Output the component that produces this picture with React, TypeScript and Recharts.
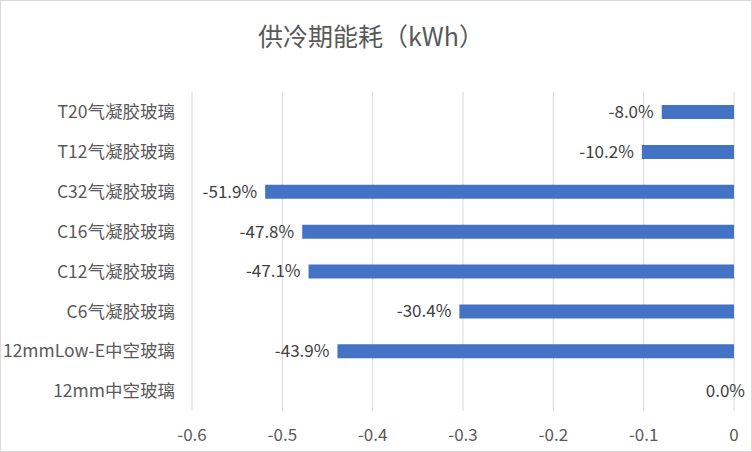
import { BarChart, Bar, XAxis, YAxis, CartesianGrid, LabelList, Cell } from 'recharts';

const categories = [
    'T20气凝胶玻璃',
    'T12气凝胶玻璃',
    'C32气凝胶玻璃',
    'C16气凝胶玻璃',
    'C12气凝胶玻璃',
    'C6气凝胶玻璃',
    '12mmLow-E中空玻璃',
    '12mm中空玻璃',
];

const savings = [-0.080, -0.102, -0.519, -0.478, -0.471, -0.304, -0.439, 0];

const xTicks = [-0.6, -0.5, -0.4, -0.3, -0.2, -0.1, 0];

const title = '供冷期能耗（kWh）';

const data = categories.map((name, i) => ({ name, value: savings[i] }));

const FONT = '"Noto Sans CJK SC", "Noto Sans", sans-serif';

const renderLabel = (props: any) => {
    const { x, y, width, height, value } = props;
    const left = Math.min(Number(x), Number(x) + Number(width));
    const cy = Number(y) + Number(height) / 2;
    const tx = value === 0 ? left + 11 : left - 8;
    return (
        <text
            x={tx}
            y={cy}
            dy="0.35em"
            textAnchor="end"
            fill="#404040"
            fontSize={17}
            fontFamily={FONT}
        >
            {(value * 100).toFixed(1) + '%'}
        </text>
    );
};

export default function App() {
    return (
        <div
            style={{
                position: 'absolute',
                left: 0,
                top: 0,
                width: 750,
                height: 450,
                border: '1px solid #d9d9d9',
                background: '#fff',
                fontFamily: FONT,
            }}
        >
            <div
                style={{
                    position: 'absolute',
                    left: 0,
                    width: 740,
                    top: 16,
                    textAlign: 'center',
                    fontSize: 25,
                    color: '#595959',
                    lineHeight: '36px',
                }}
            >
                {title}
            </div>
            <BarChart
                width={750}
                height={450}
                data={data}
                layout="vertical"
                margin={{ top: 91, right: 17, bottom: 10, left: 0 }}
                barCategoryGap={13}
            >
                <CartesianGrid horizontal={false} stroke="#d9d9d9" />
                <XAxis
                    type="number"
                    domain={[-0.6, 0]}
                    ticks={xTicks}
                    tickFormatter={(v: number) => String(v)}
                    axisLine={false}
                    tickLine={false}
                    tickMargin={12}
                    height={30}
                    tick={{ fill: '#595959', fontSize: 17, fontFamily: FONT }}
                />
                <YAxis
                    type="category"
                    dataKey="name"
                    width={191}
                    axisLine={false}
                    tickLine={false}
                    tickSize={6}
                    tickMargin={11}
                    interval={0}
                    tick={{ fill: '#595959', fontSize: 17.5, fontFamily: FONT }}
                />
                <Bar dataKey="value" fill="#4472C4" barSize={14} minPointSize={1} isAnimationActive={false}>
                    {data.map((d, i) => (
                        <Cell key={`cell-${i}`} fill={d.value === 0 ? 'transparent' : '#4472C4'} />
                    ))}
                    <LabelList dataKey="value" content={renderLabel} />
                </Bar>
            </BarChart>
        </div>
    );
}
